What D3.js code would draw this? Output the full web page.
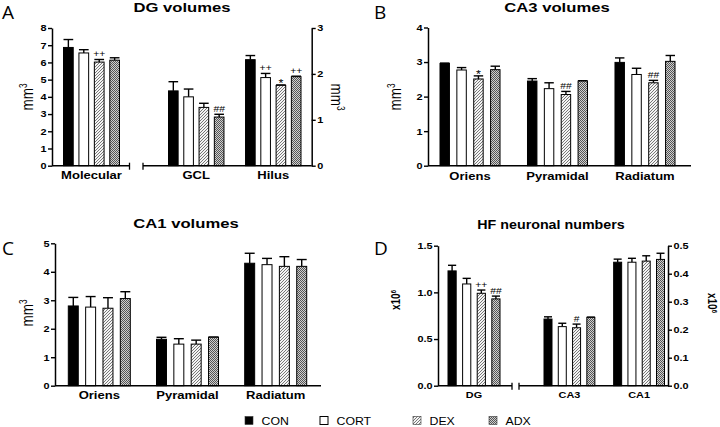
<!DOCTYPE html>
<html><head><meta charset="utf-8">
<script src="https://cdn.jsdelivr.net/npm/d3@7"></script>
<style>body{margin:0;background:#fff}svg{display:block}</style>
</head><body><svg id="c" width="720" height="427"></svg>
<script>
// ---------- DATA ----------
const series = ["CON", "CORT", "DEX", "ADX"];

// Panel A: DG volumes (Molecular on left axis, GCL & Hilus on right axis)
const aTitle = "DG volumes";
const aGroups = ["Molecular", "GCL", "Hilus"];
const aMeans = [[6.87, 6.55, 6.02, 6.13], [1.63, 1.50, 1.27, 1.06], [2.31, 1.92, 1.75, 1.94]];
const aSems  = [[0.46, 0.19, 0.15, 0.14], [0.20, 0.17, 0.09, 0.06], [0.09, 0.09, 0.01, 0.01]];
const aMarks = [["", "", "++", ""], ["", "", "", "##"], ["", "++", "*", "++"]];
const aLeftTicks = [0, 1, 2, 3, 4, 5, 6, 7, 8];
const aRightTicks = [0, 1, 2, 3];

// Panel B: CA3 volumes
const bTitle = "CA3 volumes";
const bGroups = ["Oriens", "Pyramidal", "Radiatum"];
const bMeans = [[2.96, 2.77, 2.51, 2.78], [2.45, 2.23, 2.06, 2.45], [2.99, 2.64, 2.40, 3.02]];
const bSems  = [[0.01, 0.07, 0.09, 0.10], [0.07, 0.17, 0.09, 0.01], [0.13, 0.18, 0.07, 0.17]];
const bMarks = [["", "", "*", ""], ["", "", "##", ""], ["", "", "##", ""]];
const bTicks = [0, 1, 2, 3, 4];

// Panel C: CA1 volumes
const cTitle = "CA1 volumes";
const cGroups = ["Oriens", "Pyramidal", "Radiatum"];
const cMeans = [[2.80, 2.76, 2.72, 3.06], [1.63, 1.46, 1.46, 1.70], [4.30, 4.25, 4.19, 4.19]];
const cSems  = [[0.30, 0.37, 0.37, 0.24], [0.07, 0.19, 0.14, 0.01], [0.35, 0.22, 0.34, 0.24]];
const cMarks = [["", "", "", ""], ["", "", "", ""], ["", "", "", ""]];
const cTicks = [0, 1, 2, 3, 4, 5];

// Panel D: HF neuronal numbers (DG on left axis, CA3 & CA1 on right axis)
const dTitle = "HF neuronal numbers";
const dGroups = ["DG", "CA3", "CA1"];
const dMeans = [[1.23, 1.09, 0.99, 0.93], [0.238, 0.211, 0.207, 0.244], [0.441, 0.441, 0.445, 0.451]];
const dSems  = [[0.06, 0.06, 0.035, 0.03], [0.008, 0.012, 0.013, 0.001], [0.011, 0.014, 0.019, 0.022]];
const dMarks = [["", "", "++", "##"], ["", "", "#", ""], ["", "", "", ""]];
const dLeftTicks = [0, 0.5, 1.0, 1.5];
const dRightTicks = [0, 0.1, 0.2, 0.3, 0.4, 0.5];

// ---------- DRAWING ----------
const svg = d3.select("#c");
const SX = 1.28;
const FONT = "'Liberation Sans', Arial, sans-serif";

const defs = svg.append("defs");
const pDex = defs.append("pattern").attr("id", "dex").attr("patternUnits", "userSpaceOnUse")
  .attr("width", 3).attr("height", 3);
pDex.append("rect").attr("width", 3).attr("height", 3).attr("fill", "#f4f4f4");
pDex.append("path").attr("d", "M-1,1 L1,-1 M0,3 L3,0 M2,4 L4,2").attr("stroke", "#6a6a6a").attr("stroke-width", 0.9);
const pAdx = defs.append("pattern").attr("id", "adx").attr("patternUnits", "userSpaceOnUse")
  .attr("width", 2).attr("height", 2);
pAdx.append("rect").attr("width", 2).attr("height", 2).attr("fill", "#cfcfcf");
pAdx.append("rect").attr("width", 1).attr("height", 1).attr("fill", "#555");
pAdx.append("rect").attr("x", 1).attr("y", 1).attr("width", 1).attr("height", 1).attr("fill", "#555");

const fills = d3.scaleOrdinal().domain(series).range(["#000", "#fff", "url(#dex)", "url(#adx)"]);

function txt(g, x, y, s, o) {
  o = Object.assign({size: 10, weight: "bold", anchor: "middle", sx: SX, rot: 0, family: FONT}, o || {});
  const t = g.append("text")
    .attr("transform", `translate(${x},${y}) scale(${o.sx},1)` + (o.rot ? ` rotate(${o.rot})` : ""))
    .attr("text-anchor", o.anchor)
    .style("font-family", o.family).style("font-size", o.size + "px").style("font-weight", o.weight)
    .attr("fill", "#000");
  if (o.dy) t.attr("dy", o.dy);
  t.append("tspan").text(s);
  if (o.sup) t.append("tspan").attr("dy", "-0.55em").style("font-size", "0.6em").text(o.sup);
  return t;
}

function drawPanel(p) {
  const g = svg.append("g");
  const yL = d3.scaleLinear().domain([0, d3.max(p.leftTicks)]).range([p.y0, p.yTop]);
  const yR = p.rightTicks ? d3.scaleLinear().domain([0, d3.max(p.rightTicks)]).range([p.y0, p.yTop]) : null;

  // bars
  p.segments.forEach(seg => {
    const xg = d3.scaleBand().domain(seg.groups).range(seg.range).paddingInner(seg.pad);
    const xs = d3.scaleBand().domain(series).range([0, xg.bandwidth()]).paddingInner(p.innerPad);
    const y = seg.axis === "R" ? yR : yL;
    seg.groups.forEach(gr => {
      const gi = p.groups.indexOf(gr);
      series.forEach((s, si) => {
        const m = p.means[gi][si], e = p.sems[gi][si];
        const x = xg(gr) + xs(s), w = xs.bandwidth();
        // error bar (behind bar top)
        g.append("line").attr("x1", x + w / 2).attr("x2", x + w / 2)
          .attr("y1", y(m)).attr("y2", y(m + e)).attr("stroke", "#000").attr("stroke-width", 1.4);
        g.append("line").attr("x1", x).attr("x2", x + w)
          .attr("y1", y(m + e)).attr("y2", y(m + e)).attr("stroke", "#000").attr("stroke-width", 1.4);
        g.append("rect").attr("x", x).attr("y", y(m)).attr("width", w).attr("height", p.y0 - y(m))
          .attr("fill", fills(s)).attr("stroke", "#000").attr("stroke-width", 1);
        const mk = p.marks[gi][si];
        if (mk) {
          const off = mk === "*" ? 2.5 : (mk.indexOf("#") >= 0 ? -2.5 : -2);
          txt(g, x + w / 2, y(m + e) + off, mk, {size: mk === "*" ? 11 : 9, weight: "normal", sx: 1.15});
        }
      });
      txt(g, xg(gr) + xg.bandwidth() / 2, p.labelY, gr, {size: p.labelSize});
    });
    // x axis segment
    g.append("line").attr("x1", seg.line[0]).attr("x2", seg.line[1]).attr("y1", p.y0).attr("y2", p.y0)
      .attr("stroke", "#000").attr("stroke-width", 1.5);
    (seg.breaks || []).forEach(bx => {
      g.append("line").attr("x1", bx).attr("x2", bx).attr("y1", p.y0 - 3).attr("y2", p.y0 + 4)
        .attr("stroke", "#000").attr("stroke-width", 1.3);
    });
  });

  // y axes
  function styleAxis(ax, dir) {
    ax.select(".domain").attr("stroke-width", 1.5);
    ax.selectAll(".tick line").attr("stroke-width", 1.4);
    ax.selectAll(".tick text").attr("x", null).attr("dy", "0.34em")
      .attr("transform", `translate(${dir * 5.5},0) scale(${SX},1)`)
      .style("font-family", FONT).style("font-size", "8.5px").style("font-weight", "bold");
    ax.attr("font-family", null).attr("font-size", null);
  }
  const axL = g.append("g").attr("transform", `translate(${p.xL},0)`)
    .call(d3.axisLeft(yL).tickValues(p.leftTicks).tickSize(4).tickSizeOuter(0).tickFormat(p.fmtL));
  styleAxis(axL, -1);
  if (yR) {
    const axR = g.append("g").attr("transform", `translate(${p.xR},0)`)
      .call(d3.axisRight(yR).tickValues(p.rightTicks).tickSize(4).tickSizeOuter(0).tickFormat(p.fmtR));
    styleAxis(axR, 1);
  }

  // axis titles
  txt(g, p.ylabL.x, p.ylabL.y, p.ylabL.t, {size: p.ylabL.size, weight: p.ylabL.weight, rot: -90, sup: p.ylabL.sup, dy: "0.35em"});
  if (p.ylabR) txt(g, p.ylabR.x, p.ylabR.y, p.ylabR.t, {size: p.ylabR.size, weight: p.ylabR.weight, rot: 90, sup: p.ylabR.sup, dy: "0.35em"});

  // title & panel letter
  txt(g, p.titleX, p.titleY, p.title, {size: p.titleSize, sx: p.titleSX});
  txt(g, p.letterX, p.letterY, p.letter, {size: 19, weight: "normal", anchor: "start", sx: 1, family: "'Open Sans', sans-serif"});
}

drawPanel({
  title: aTitle, titleX: 182, titleY: 12, titleSize: 13, titleSX: SX, letter: "A", letterX: 2, letterY: 19,
  groups: aGroups, means: aMeans, sems: aSems, marks: aMarks,
  leftTicks: aLeftTicks, rightTicks: aRightTicks, fmtL: d3.format("d"), fmtR: d3.format("d"),
  y0: 165.7, yTop: 28, xL: 52, xR: 311.7, innerPad: 0.37, labelY: 179, labelSize: 10.2,
  segments: [
    {groups: ["Molecular"], range: [63.5, 119.5], pad: 0, axis: "L", line: [52, 129.5], breaks: [129.5]},
    {groups: ["GCL", "Hilus"], range: [168.5, 301], pad: 0.28, axis: "R", line: [143, 311.7], breaks: [143]}
  ],
  ylabL: {t: "mm", sup: "3", x: 27, y: 97, size: 13.5, weight: "normal"},
  ylabR: {t: "mm", sup: "3", x: 337, y: 97, size: 13.5, weight: "normal"}
});

drawPanel({
  title: bTitle, titleX: 557, titleY: 12, titleSize: 13, titleSX: SX, letter: "B", letterX: 374, letterY: 19,
  groups: bGroups, means: bMeans, sems: bSems, marks: bMarks,
  leftTicks: bTicks, fmtL: d3.format("d"),
  y0: 165.7, yTop: 27.5, xL: 428, innerPad: 0.44, labelY: 180, labelSize: 10.2,
  segments: [
    {groups: bGroups, range: [440, 675], pad: 0.314, axis: "L", line: [428, 691]}
  ],
  ylabL: {t: "mm", sup: "3", x: 395, y: 97, size: 13.5, weight: "normal"}
});

drawPanel({
  title: cTitle, titleX: 186, titleY: 228, titleSize: 13, titleSX: SX, letter: "C", letterX: 2, letterY: 255,
  groups: cGroups, means: cMeans, sems: cSems, marks: cMarks,
  leftTicks: cTicks, fmtL: d3.format("d"),
  y0: 385.7, yTop: 243.3, xL: 55, innerPad: 0.425, labelY: 399, labelSize: 10.2,
  segments: [
    {groups: cGroups, range: [68.3, 306.7], pad: 0.297, axis: "L", line: [55, 321]}
  ],
  ylabL: {t: "mm", sup: "3", x: 27, y: 313, size: 13.5, weight: "normal"}
});

drawPanel({
  title: dTitle, titleX: 551, titleY: 229, titleSize: 12, titleSX: 1.19, letter: "D", letterX: 374, letterY: 255,
  groups: dGroups, means: dMeans, sems: dSems, marks: dMarks,
  leftTicks: dLeftTicks, rightTicks: dRightTicks, fmtL: d3.format(".1f"), fmtR: d3.format(".1f"),
  y0: 385.7, yTop: 245.7, xL: 438, xR: 668, innerPad: 0.44, labelY: 398, labelSize: 8.5,
  segments: [
    {groups: ["DG"], range: [448, 500], pad: 0, axis: "L", line: [438, 512], breaks: [512]},
    {groups: ["CA3", "CA1"], range: [544, 664.5], pad: 0.27, axis: "R", line: [519, 668], breaks: [519]}
  ],
  ylabL: {t: "x10", sup: "6", x: 396, y: 300, size: 10, weight: "bold"},
  ylabR: {t: "x10", sup: "6", x: 712, y: 303, size: 10, weight: "bold"}
});

// legend
const legendX = [245, 320, 413, 489];
const lg = svg.append("g");
series.forEach((s, i) => {
  lg.append("rect").attr("x", legendX[i]).attr("y", 416.5).attr("width", 8).attr("height", 8)
    .attr("fill", fills(s)).attr("stroke", i === 1 ? "#000" : "#333").attr("stroke-width", i === 1 ? 1 : 0.6);
  txt(lg, legendX[i] + 16.5, 424.5, s, {size: 11, weight: "normal", anchor: "start", sx: 1.12});
});
</script></body></html>
